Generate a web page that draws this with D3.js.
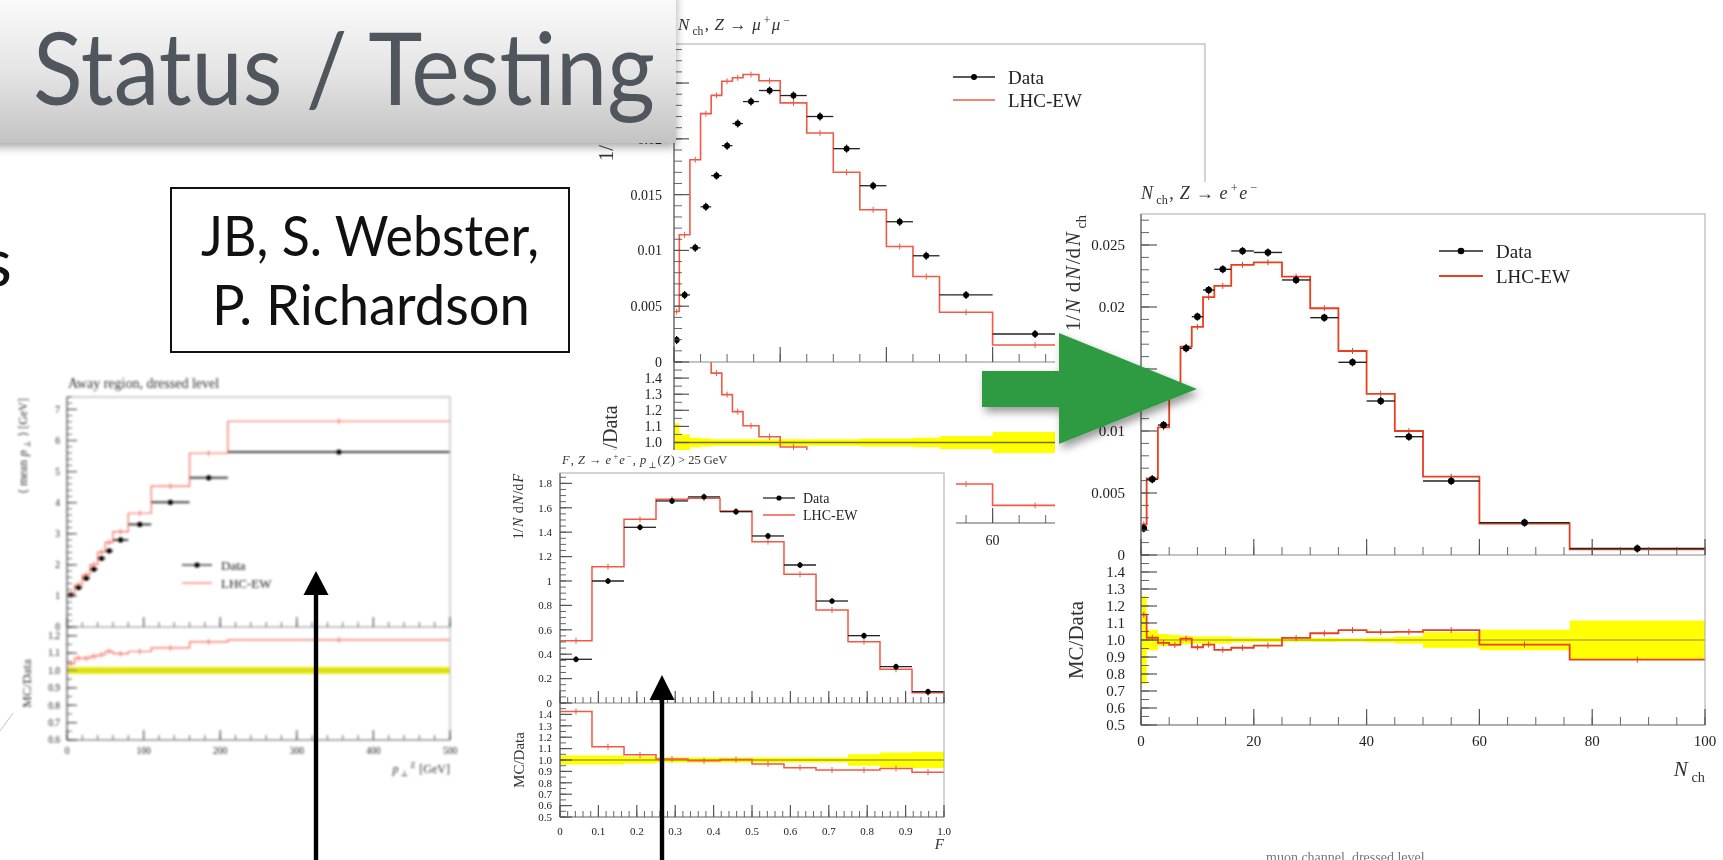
<!DOCTYPE html>
<html lang="en">
<head>
<meta charset="utf-8">
<title>Status / Testing</title>
<script src="https://cdn.jsdelivr.net/npm/d3@7/dist/d3.min.js"></script>
<style>
  html, body { margin: 0; padding: 0; background: #fff; overflow: hidden; }
  svg { display: block; }
</style>
</head>
<body>
<svg id="slide" width="1723" height="860" viewBox="0 0 1723 860"></svg>
<script>
// ---------- N_ch distributions (same binning in both Z channels) ----------
const nchEdges  = [0, 1, 3, 5, 7, 9, 11, 13, 16, 20, 25, 30, 35, 40, 45, 50, 60, 76, 100];
const nchMuData = [0.00198, 0.00601, 0.01023, 0.01391, 0.01670, 0.01939, 0.02137, 0.02334, 0.02433, 0.02388, 0.02200, 0.01912, 0.01580, 0.01257, 0.00952, 0.00601, 0.00251, 0.00055];
const nchMuMC   = [0.00452, 0.01140, 0.01813, 0.02226, 0.02390, 0.02516, 0.02547, 0.02576, 0.02520, 0.02322, 0.02053, 0.01700, 0.01364, 0.01035, 0.00766, 0.00446, 0.00153, 0.00030];
const nchMuErr  = [0.12, 0.05, 0.03, 0.025, 0.02, 0.02, 0.02, 0.02, 0.02, 0.02, 0.02, 0.02, 0.025, 0.025, 0.03, 0.04, 0.065, 0.10];

const nchEeData = [0.00215, 0.00610, 0.01048, 0.01370, 0.01667, 0.01922, 0.02137, 0.02304, 0.02452, 0.02440, 0.02218, 0.01914, 0.01554, 0.01242, 0.00954, 0.00597, 0.00261, 0.00052];
const nchEeMC   = [0.00247, 0.00618, 0.01030, 0.01330, 0.01680, 0.01840, 0.02080, 0.02170, 0.02340, 0.02360, 0.02245, 0.01990, 0.01645, 0.01300, 0.01000, 0.00632, 0.00254, 0.00046];
const nchEeErr  = [0.26, 0.06, 0.035, 0.03, 0.025, 0.02, 0.02, 0.02, 0.015, 0.012, 0.01, 0.012, 0.01, 0.015, 0.02, 0.045, 0.06, 0.115];

const nchXTicks  = [0, 20, 40, 60, 80, 100];
const nchXLabels = ['0', '20', '40', '60', '80', '100'];
const nchYTicks  = [0, 0.005, 0.01, 0.015, 0.02, 0.025];
const nchYLabels = ['0', '0.005', '0.01', '0.015', '0.02', '0.025'];

// ---------- F, Z -> e+e-, pT(Z) > 25 GeV ----------
const fEdges = [0, 0.0833, 0.1667, 0.25, 0.3333, 0.4167, 0.5, 0.5833, 0.6667, 0.75, 0.8333, 0.9167, 1];
const fData  = [0.358, 1.000, 1.440, 1.656, 1.690, 1.568, 1.369, 1.131, 0.836, 0.552, 0.298, 0.093];
const fMC    = [0.510, 1.117, 1.505, 1.670, 1.678, 1.574, 1.322, 1.055, 0.762, 0.503, 0.276, 0.083];
const fErr   = [0.04, 0.04, 0.03, 0.022, 0.022, 0.022, 0.022, 0.022, 0.022, 0.05, 0.065, 0.07];
const fXTicks  = [0, 0.1, 0.2, 0.3, 0.4, 0.5, 0.6, 0.7, 0.8, 0.9, 1.0];
const fXLabels = ['0', '0.1', '0.2', '0.3', '0.4', '0.5', '0.6', '0.7', '0.8', '0.9', '1.0'];
const fYTicks  = [0, 0.2, 0.4, 0.6, 0.8, 1, 1.2, 1.4, 1.6, 1.8];
const fYLabels = ['0', '0.2', '0.4', '0.6', '0.8', '1', '1.2', '1.4', '1.6', '1.8'];

// ---------- mean pT vs pT(Z), away region ----------
const ptEdges = [0, 10, 20, 30, 40, 50, 60, 80, 110, 160, 210, 500];
const ptData  = [1.03, 1.27, 1.57, 1.86, 2.21, 2.45, 2.80, 3.30, 4.01, 4.80, 5.63];
const ptMC    = [1.07, 1.36, 1.68, 2.01, 2.41, 2.72, 3.07, 3.66, 4.53, 5.59, 6.62];
const ptErr   = [0.02, 0.02, 0.02, 0.02, 0.02, 0.02, 0.02, 0.02, 0.02, 0.02, 0.02];
const ptXTicks  = [0, 100, 200, 300, 400, 500];
const ptXLabels = ['0', '100', '200', '300', '400', '500'];
const ptYTicks  = [0, 1, 2, 3, 4, 5, 6, 7];
const ptYLabels = ['0', '1', '2', '3', '4', '5', '6', '7'];

// ---------- MC/Data ratio axes ----------
const ratioTicks    = [0.5, 0.6, 0.7, 0.8, 0.9, 1.0, 1.1, 1.2, 1.3, 1.4];
const ratioLabels   = ['0.5', '0.6', '0.7', '0.8', '0.9', '1.0', '1.1', '1.2', '1.3', '1.4'];
const ptRatioTicks  = [0.6, 0.7, 0.8, 0.9, 1.0, 1.1, 1.2];
const ptRatioLabels = ['0.6', '0.7', '0.8', '0.9', '1.0', '1.1', '1.2'];

// ---------- drawing ----------
const SERIF = "'Liberation Serif', 'DejaVu Serif', serif";
const SANS = "Lato, 'Open Sans', 'DejaVu Sans', sans-serif";
const slide = d3.select('#slide');
const defs = slide.append('defs');

[['blurL', 0.9], ['blurF', 0.7], ['blurT', 0.6], ['blurR', 0.5]].forEach(([id, sd]) => {
  defs.append('filter').attr('id', id)
    .attr('x', '-5%').attr('y', '-5%').attr('width', '110%').attr('height', '110%')
    .append('feGaussianBlur').attr('stdDeviation', sd);
});
const barShadow = defs.append('filter').attr('id', 'barShadow')
  .attr('x', '-5%').attr('y', '-10%').attr('width', '110%').attr('height', '130%');
barShadow.append('feDropShadow').attr('dx', 0).attr('dy', 4).attr('stdDeviation', 5)
  .attr('flood-color', '#000').attr('flood-opacity', 0.35);
const arrowShadow = defs.append('filter').attr('id', 'arrowShadow')
  .attr('x', '-10%').attr('y', '-20%').attr('width', '130%').attr('height', '150%');
arrowShadow.append('feDropShadow').attr('dx', 3).attr('dy', 5).attr('stdDeviation', 4)
  .attr('flood-color', '#000').attr('flood-opacity', 0.4);
const grad = defs.append('linearGradient').attr('id', 'barGrad')
  .attr('x1', 0).attr('y1', 0).attr('x2', 0).attr('y2', 1);
grad.append('stop').attr('offset', 0).attr('stop-color', '#fdfdfd');
grad.append('stop').attr('offset', 0.55).attr('stop-color', '#e4e4e4');
grad.append('stop').attr('offset', 1).attr('stop-color', '#c3c3c3');

// text with italic / sub- / superscript pieces; each piece is nudged a little
// to the right so neighbouring pieces never share pixels
function rich(sel, parts, size) {
  let shift = 0;
  parts.forEach((p, k) => {
    const seg = typeof p === 'string' ? { t: p } : p;
    const small = seg.sub || seg.sup;
    const target = seg.sub ? 0.28 * size : seg.sup ? -0.38 * size : 0;
    const ts = sel.append('tspan').text(seg.t).attr('dy', target - shift);
    shift = target;
    if (small) ts.attr('font-size', size * 0.68).attr('dx', 0.18 * size);
    else if (k > 0) ts.attr('dx', 0.08 * size);
    if (seg.i) ts.attr('font-style', 'italic');
  });
  return sel;
}

// a line of slide text squeezed horizontally to a given width
function fittedText(str, x, y, width, size, anchor, fill) {
  const t = slide.append('text').attr('x', 0).attr('y', 0)
    .attr('font-family', SANS).attr('font-size', size).attr('fill', fill)
    .attr('text-anchor', anchor).text(str);
  const natural = t.node().getComputedTextLength();
  t.attr('transform', `translate(${x},${y}) scale(${width / natural},1)`);
  return t;
}

// texts lying entirely under something drawn later are left out
function dropCovered(g, rects) {
  g.selectAll('text').each(function () {
    const b = this.getBoundingClientRect();
    const hidden = rects.some(([rx, ry, rw, rh]) =>
      b.left >= rx && b.right <= rx + rw && b.top >= ry && b.bottom <= ry + rh);
    if (hidden) d3.select(this).remove();
  });
}

function drawPlot(c) {
  if (c.bg) {
    slide.append('rect').attr('x', c.bg[0]).attr('y', c.bg[1])
      .attr('width', c.bg[2]).attr('height', c.bg[3]).attr('fill', '#fff');
  }
  const g = slide.append('g').attr('font-family', SERIF).attr('filter', `url(#${c.blur})`);
  const x = d3.scaleLinear().domain([c.edges[0], c.edges[c.edges.length - 1]]).range([c.left, c.right]);
  const y = d3.scaleLinear().domain(c.yDomain).range([c.mainBottom, c.top]);
  const yr = d3.scaleLinear().domain(c.rDomain).range([c.ratioBottom, c.mainBottom]);
  const W = c.right - c.left;

  defs.append('clipPath').attr('id', c.id + 'M').append('rect')
    .attr('x', c.left).attr('y', c.top).attr('width', W).attr('height', c.mainBottom - c.top);
  defs.append('clipPath').attr('id', c.id + 'R').append('rect')
    .attr('x', c.left).attr('y', c.mainBottom).attr('width', W).attr('height', c.ratioBottom - c.mainBottom);

  const bins = c.data.map((d, i) => ({
    x0: c.edges[i], x1: c.edges[i + 1], xc: (c.edges[i] + c.edges[i + 1]) / 2,
    d, m: c.mc[i], e: c.err[i], r: c.mc[i] / d
  }));
  const steps = key => bins.flatMap(b => [[b.x0, b[key]], [b.x1, b[key]]]);

  // ratio panel: data uncertainty band, unity line, MC/Data
  const rp = g.append('g').attr('clip-path', `url(#${c.id}R)`);
  rp.append('path')
    .attr('d', d3.area().x(p => x(p[0])).y0(p => yr(1 - p[1])).y1(p => yr(1 + p[1]))(steps('e')))
    .attr('fill', c.band);
  rp.append('line').attr('x1', c.left).attr('x2', c.right).attr('y1', yr(1)).attr('y2', yr(1))
    .attr('stroke', c.unity).attr('stroke-width', c.unityW);
  rp.append('path')
    .attr('d', d3.line().x(p => x(p[0])).y(p => yr(p[1]))(steps('r')))
    .attr('fill', 'none').attr('stroke', c.red).attr('stroke-width', c.mcW);
  rp.selectAll('line.rt').data(bins).join('line').attr('class', 'rt')
    .attr('x1', b => x(b.xc)).attr('x2', b => x(b.xc))
    .attr('y1', b => yr(b.r) - 3).attr('y2', b => yr(b.r) + 3)
    .attr('stroke', c.red).attr('stroke-width', 1);

  // main panel: MC histogram and data points
  const mp = g.append('g').attr('clip-path', `url(#${c.id}M)`);
  mp.append('path')
    .attr('d', d3.line().x(p => x(p[0])).y(p => y(p[1]))(steps('m')))
    .attr('fill', 'none').attr('stroke', c.red).attr('stroke-width', c.mcW);
  mp.selectAll('line.mt').data(bins).join('line').attr('class', 'mt')
    .attr('x1', b => x(b.xc)).attr('x2', b => x(b.xc))
    .attr('y1', b => y(b.m) - 3).attr('y2', b => y(b.m) + 3)
    .attr('stroke', c.red).attr('stroke-width', 1);
  mp.selectAll('line.xe').data(bins).join('line').attr('class', 'xe')
    .attr('x1', b => x(b.x0)).attr('x2', b => x(b.x1))
    .attr('y1', b => y(b.d)).attr('y2', b => y(b.d))
    .attr('stroke', c.barColor).attr('stroke-width', c.barW);
  mp.selectAll('line.ye').data(bins).join('line').attr('class', 'ye')
    .attr('x1', b => x(b.xc)).attr('x2', b => x(b.xc))
    .attr('y1', b => y(b.d) - c.vErr).attr('y2', b => y(b.d) + c.vErr)
    .attr('stroke', '#111').attr('stroke-width', 1.3);
  mp.selectAll('circle.pt').data(bins).join('circle').attr('class', 'pt')
    .attr('cx', b => x(b.xc)).attr('cy', b => y(b.d)).attr('r', c.markerR).attr('fill', '#000');

  // frame
  g.append('rect').attr('x', c.left).attr('y', c.top).attr('width', W)
    .attr('height', c.ratioBottom - c.top).attr('fill', 'none').attr('stroke', '#a8a8a8').attr('stroke-width', 1);
  g.append('line').attr('x1', c.left).attr('x2', c.right).attr('y1', c.mainBottom).attr('y2', c.mainBottom)
    .attr('stroke', '#8a8a8a').attr('stroke-width', 1.2);
  g.append('line').attr('x1', c.left).attr('x2', c.right).attr('y1', c.ratioBottom).attr('y2', c.ratioBottom)
    .attr('stroke', '#8a8a8a').attr('stroke-width', 1.2);
  g.append('line').attr('x1', c.left).attr('x2', c.left).attr('y1', c.top).attr('y2', c.ratioBottom)
    .attr('stroke', '#666').attr('stroke-width', 1.2);

  // ticks (inward, left and bottom edges)
  const tk = g.append('g').attr('stroke', '#555');
  const yTickSet = (scale, majors, lo, hi, step) => {
    tk.selectAll(null).data(d3.range(lo, hi + 1e-9, step)).join('line')
      .attr('x1', c.left).attr('x2', c.left + c.minLen)
      .attr('y1', v => scale(v)).attr('y2', v => scale(v)).attr('stroke-width', 0.9);
    tk.selectAll(null).data(majors).join('line')
      .attr('x1', c.left).attr('x2', c.left + c.majLen)
      .attr('y1', v => scale(v)).attr('y2', v => scale(v)).attr('stroke-width', 1.2);
  };
  yTickSet(y, c.yTicks, c.yDomain[0], c.yDomain[1], c.yMinor);
  yTickSet(yr, c.rTicks, c.rDomain[0], c.rDomain[1], c.rMinor);
  const x0 = c.edges[0], x1 = c.edges[c.edges.length - 1];
  [c.mainBottom, c.ratioBottom].forEach(base => {
    tk.selectAll(null).data(d3.range(x0, x1 + 1e-9, c.xMinor)).join('line')
      .attr('x1', v => x(v)).attr('x2', v => x(v))
      .attr('y1', base).attr('y2', base - c.minLen).attr('stroke-width', 0.9);
    tk.selectAll(null).data(c.xTicks).join('line')
      .attr('x1', v => x(v)).attr('x2', v => x(v))
      .attr('y1', base).attr('y2', base - c.majLen).attr('stroke-width', 1.2);
  });

  // tick labels
  const lab = g.append('g').attr('fill', '#222').attr('font-size', c.tickFont);
  lab.selectAll(null).data(c.yTicks).join('text')
    .attr('x', c.left - c.yGap).attr('y', v => y(v)).attr('dy', '0.35em').attr('text-anchor', 'end')
    .text((v, i) => c.yTickLabels[i]);
  lab.selectAll(null).data(c.rTicks).join('text')
    .attr('x', c.left - c.yGap).attr('y', v => yr(v)).attr('dy', '0.35em').attr('text-anchor', 'end')
    .text((v, i) => c.rTickLabels[i]);
  lab.selectAll(null).data(c.xTicks).join('text')
    .attr('x', v => x(v)).attr('y', c.xLabY).attr('text-anchor', 'middle')
    .text((v, i) => c.xTickLabels[i]);

  // title
  rich(g.append('text').attr('x', c.titleX).attr('y', c.titleY)
    .attr('font-size', c.titleSize).attr('fill', '#333'), c.title, c.titleSize);

  // axis titles
  rich(g.append('text')
    .attr('transform', `translate(${c.yLabelX},${c.top + 1}) rotate(-90)`)
    .attr('text-anchor', 'end').attr('font-size', c.yLabelSize).attr('fill', '#333'), c.yLabel, c.yLabelSize);
  g.append('text')
    .attr('transform', `translate(${c.rLabelX},${(c.mainBottom + c.ratioBottom) / 2}) rotate(-90)`)
    .attr('text-anchor', 'middle').attr('font-size', c.rLabelSize).attr('fill', '#333').text('MC/Data');
  rich(g.append('text').attr('x', c.right).attr('y', c.xLabelY).attr('text-anchor', 'end')
    .attr('font-size', c.xLabelSize).attr('fill', '#333'), c.xLabel, c.xLabelSize);

  // legend
  const L = c.legend;
  g.append('line').attr('x1', L.x1).attr('x2', L.x2).attr('y1', L.y1).attr('y2', L.y1)
    .attr('stroke', '#222').attr('stroke-width', 1.3);
  g.append('circle').attr('cx', (L.x1 + L.x2) / 2).attr('cy', L.y1).attr('r', c.markerR).attr('fill', '#000');
  g.append('line').attr('x1', L.x1).attr('x2', L.x2).attr('y1', L.y2).attr('y2', L.y2)
    .attr('stroke', c.red).attr('stroke-width', c.mcW);
  g.append('text').attr('x', L.tx).attr('y', L.y1).attr('dy', '0.35em')
    .attr('font-size', L.size).attr('fill', '#222').text('Data');
  g.append('text').attr('x', L.tx).attr('y', L.y2).attr('dy', '0.35em')
    .attr('font-size', L.size).attr('fill', '#222').text('LHC-EW');
  return g;
}

const nchTitle = lep => [{ t: 'N', i: true }, { t: 'ch', sub: true }, ', ', { t: 'Z', i: true }, ' \u2192 ',
  { t: lep, i: true }, { t: '+', sup: true }, { t: lep, i: true }, { t: '\u2212', sup: true }];
const nchYLabel = ['1/', { t: 'N', i: true }, ' d', { t: 'N', i: true }, '/d', { t: 'N', i: true }, { t: 'ch', sub: true }];
const nchXLabel = [{ t: 'N', i: true }, { t: 'ch', sub: true }];

// regions painted over the muon-channel plot
const titleBarBox = [0, 0, 676, 143];
const fPlotBox = [490, 450, 466, 410];
const eePlotBox = [1055, 182, 668, 678];

// N_ch, Z -> mu mu (sits behind the title bar and the other plots)
const muPlot = drawPlot({
  id: 'mu', blur: 'blurT',
  left: 674, right: 1205, top: 44, mainBottom: 362, ratioBottom: 523,
  edges: nchEdges, data: nchMuData, mc: nchMuMC, err: nchMuErr,
  yDomain: [0, 0.0285], rDomain: [0.5, 1.5],
  xTicks: nchXTicks, xTickLabels: nchXLabels, xMinor: 5,
  yTicks: nchYTicks, yTickLabels: nchYLabels, yMinor: 0.001,
  rTicks: ratioTicks, rTickLabels: ratioLabels, rMinor: 0.05,
  majLen: 15, minLen: 8, tickFont: 14, yGap: 12, xLabY: 545,
  title: nchTitle('\u03bc'), titleX: 678, titleY: 30, titleSize: 17,
  legend: { x1: 953, x2: 995, tx: 1008, y1: 77, y2: 100, size: 19 },
  yLabel: nchYLabel, yLabelX: 613, yLabelSize: 21, rLabelX: 617, rLabelSize: 20,
  xLabel: nchXLabel, xLabelY: 580, xLabelSize: 20,
  red: '#f05a46', mcW: 1.6, band: '#ffff00', unity: '#6f6f00', unityW: 1.3,
  markerR: 3, barW: 1.3, barColor: '#222', vErr: 4
});
dropCovered(muPlot, [titleBarBox, fPlotBox, eePlotBox]);

// title bar
slide.append('rect').attr('x', -10).attr('y', -10).attr('width', titleBarBox[2] + 10).attr('height', titleBarBox[3] + 10)
  .attr('fill', 'url(#barGrad)').attr('filter', 'url(#barShadow)');
fittedText('Status / Testing', 33, 105, 622, 100, 'start', '#50565d');

// author box and the clipped bullet text at the left edge
slide.append('rect').attr('x', 171).attr('y', 188).attr('width', 398).attr('height', 164)
  .attr('fill', '#fff').attr('stroke', '#111').attr('stroke-width', 2);
fittedText('JB, S. Webster,', 370, 256, 338, 57, 'middle', '#111');
fittedText('P. Richardson', 371, 325, 318, 57, 'middle', '#111');
slide.append('text').attr('x', 12).attr('y', 286).attr('text-anchor', 'end')
  .attr('font-family', SANS).attr('font-size', 68).attr('fill', '#111').text('s');
slide.append('line').attr('x1', 0).attr('y1', 731).attr('x2', 13).attr('y2', 713)
  .attr('stroke', '#c4c4c4').attr('stroke-width', 1);

// mean pT, away region
drawPlot({
  id: 'pt', blur: 'blurL',
  left: 67, right: 450, top: 397, mainBottom: 627, ratioBottom: 740,
  edges: ptEdges, data: ptData, mc: ptMC, err: ptErr,
  yDomain: [0, 7.4], rDomain: [0.6, 1.25],
  xTicks: ptXTicks, xTickLabels: ptXLabels, xMinor: 20,
  yTicks: ptYTicks, yTickLabels: ptYLabels, yMinor: 0.2,
  rTicks: ptRatioTicks, rTickLabels: ptRatioLabels, rMinor: 0.05,
  majLen: 10, minLen: 5, tickFont: 9.5, yGap: 7, xLabY: 754,
  title: ['Away region, dressed level'], titleX: 68, titleY: 388, titleSize: 14,
  legend: { x1: 182, x2: 212, tx: 221, y1: 565, y2: 583, size: 13 },
  yLabel: ['\u27e8 mean ', { t: 'p', i: true }, { t: '\u22a5', sub: true }, ' \u27e9 [GeV]'],
  yLabelX: 27, yLabelSize: 12, rLabelX: 31, rLabelSize: 13,
  xLabel: [{ t: 'p', i: true }, { t: '\u22a5', sub: true }, { t: 'Z', sup: true }, ' [GeV]'], xLabelY: 773, xLabelSize: 12,
  red: '#f36a5a', mcW: 1.2, band: '#e9e91a', unity: '#c4c400', unityW: 1,
  markerR: 2.6, barW: 2, barColor: '#444', vErr: 2
});

// F, Z -> e e with pT(Z) cut
drawPlot({
  id: 'ff', blur: 'blurF', bg: fPlotBox,
  left: 560, right: 944, top: 473, mainBottom: 703, ratioBottom: 817,
  edges: fEdges, data: fData, mc: fMC, err: fErr,
  yDomain: [0, 1.885], rDomain: [0.5, 1.5],
  xTicks: fXTicks, xTickLabels: fXLabels, xMinor: 0.02,
  yTicks: fYTicks, yTickLabels: fYLabels, yMinor: 0.05,
  rTicks: ratioTicks, rTickLabels: ratioLabels, rMinor: 0.05,
  majLen: 12, minLen: 6, tickFont: 11, yGap: 8, xLabY: 835,
  title: [{ t: 'F', i: true }, ', ', { t: 'Z', i: true }, ' \u2192 ', { t: 'e', i: true }, { t: '+', sup: true },
    { t: 'e', i: true }, { t: '\u2212', sup: true }, ', ', { t: 'p', i: true }, { t: '\u22a5', sub: true }, '(', { t: 'Z', i: true }, ') > 25 GeV'],
  titleX: 562, titleY: 464, titleSize: 12.5,
  legend: { x1: 763, x2: 795, tx: 803, y1: 498, y2: 515, size: 14 },
  yLabel: ['1/', { t: 'N', i: true }, ' d', { t: 'N', i: true }, '/d', { t: 'F', i: true }],
  yLabelX: 523, yLabelSize: 14, rLabelX: 524, rLabelSize: 15,
  xLabel: [{ t: 'F', i: true }], xLabelY: 849, xLabelSize: 15,
  red: '#f05a44', mcW: 1.5, band: '#ffff00', unity: '#777700', unityW: 1.2,
  markerR: 2.6, barW: 1.3, barColor: '#222', vErr: 3
});

// N_ch, Z -> e e
drawPlot({
  id: 'ee', blur: 'blurR', bg: eePlotBox,
  left: 1141, right: 1705, top: 214, mainBottom: 555, ratioBottom: 725,
  edges: nchEdges, data: nchEeData, mc: nchEeMC, err: nchEeErr,
  yDomain: [0, 0.0275], rDomain: [0.5, 1.5],
  xTicks: nchXTicks, xTickLabels: nchXLabels, xMinor: 5,
  yTicks: nchYTicks, yTickLabels: nchYLabels, yMinor: 0.001,
  rTicks: ratioTicks, rTickLabels: ratioLabels, rMinor: 0.05,
  majLen: 16, minLen: 8, tickFont: 15, yGap: 16, xLabY: 746,
  title: nchTitle('e'), titleX: 1141, titleY: 199, titleSize: 18,
  legend: { x1: 1439, x2: 1483, tx: 1496, y1: 251, y2: 276, size: 19 },
  yLabel: nchYLabel, yLabelX: 1080, yLabelSize: 21, rLabelX: 1083, rLabelSize: 21,
  xLabel: nchXLabel, xLabelY: 776, xLabelSize: 21,
  red: '#e8401f', mcW: 1.8, band: '#ffff00', unity: '#8a8a40', unityW: 1,
  markerR: 3.3, barW: 1.4, barColor: '#222', vErr: 4
});

// green arrow between the two N_ch plots
const greenArrow = [[982, 371], [1059, 371], [1059, 333], [1197, 389], [1059, 444], [1059, 407], [982, 407]];
slide.append('path').attr('d', d3.line()(greenArrow) + 'Z')
  .attr('fill', '#2f9b43').attr('filter', 'url(#arrowShadow)');

// black pointer arrows
[[316, 571, 595], [662, 675, 700]].forEach(([ax, tip, base]) => {
  slide.append('rect').attr('x', ax - 2.2).attr('y', base - 1).attr('width', 4.4).attr('height', 860 - base + 1).attr('fill', '#000');
  slide.append('path').attr('d', d3.line()([[ax - 12.5, base], [ax, tip], [ax + 12.5, base]]) + 'Z').attr('fill', '#000');
});

// caption of the next plot, cut at the bottom edge
slide.append('text').attr('x', 1266).attr('y', 862).attr('font-family', SERIF)
  .attr('font-size', 14).attr('fill', '#777').attr('filter', 'url(#blurR)').text('muon channel, dressed level');
</script>
</body>
</html>
